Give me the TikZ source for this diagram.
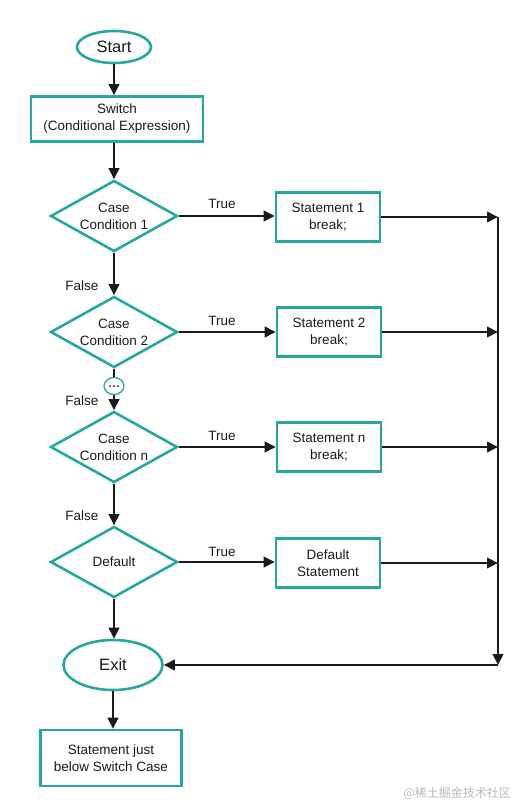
\documentclass[tikz,border=0pt]{standalone}
\usepackage{fontspec}
\setmainfont{Liberation Sans}
\newfontfamily\cjk{Noto Sans CJK SC}
\usetikzlibrary{shapes.geometric,arrows.meta,calc}
\definecolor{teal1}{RGB}{38,168,158}
\definecolor{ink}{RGB}{26,26,26}
\begin{document}
\begin{tikzpicture}[x=1pt,y=-1pt,
 txt/.style={font=\fontsize{13.5}{17}\selectfont, text=ink, align=center},
 oval/.style={ellipse, draw=teal1, line width=2.6pt, fill=white, inner sep=0pt, font=\fontsize{16.5}{20}\selectfont, text=ink},
 rbox/.style={rectangle, draw=teal1, line width=2.6pt, inner sep=0pt, txt},
 dia/.style={diamond, draw=teal1, line width=2.6pt, aspect=1.8, inner sep=0pt, minimum width=127pt, minimum height=71pt, txt},
 sbox/.style={rbox, minimum width=104pt, minimum height=49pt},
 arr/.style={draw=ink, line width=2.3pt, -{Triangle[length=11pt,width=10.5pt]}},
 ln/.style={draw=ink, line width=2.3pt},
 lbl/.style={txt, inner sep=0pt}]
\useasboundingbox (0,0) rectangle (528,808);
\fill[white] (0,0) rectangle (528,808);

% main column
\node[oval, minimum width=74pt, minimum height=32pt] (start) at (114,47) {Start};
\node[rbox, minimum width=172pt, minimum height=45pt] (switch) at (117,119) {Switch\\(Conditional Expression)};
\node[dia] (c1) at (114,216) {Case\\Condition 1};
\node[dia] (c2) at (114,332) {Case\\Condition 2};
\node[ellipse, draw=teal1, line width=1.3pt, minimum width=20pt, minimum height=17pt, inner sep=0pt] (dots) at (114,386) {};
\foreach \dx in {-4,0,4} \fill[ink] ($(dots.center)+(\dx,0)$) circle (1pt);
\node[dia] (c3) at (114,447) {Case\\Condition n};
\node[dia] (c4) at (114,562) {Default};
\node[oval, minimum width=99pt, minimum height=50pt] (exit) at (113,665) {Exit};
\node[rbox, minimum width=141pt, minimum height=56pt] (final) at (111,758) {Statement just\\below Switch Case};

% statements
\node[sbox] (s1) at (328,217) {Statement 1\\break;};
\node[sbox] (s2) at (329,332) {Statement 2\\break;};
\node[sbox] (s3) at (329,447) {Statement n\\break;};
\node[sbox] (s4) at (328,563) {Default\\Statement};

% labels
\node[lbl] (t1) at (222,204) {True};
\node[lbl] (t2) at (222,321) {True};
\node[lbl] (t3) at (222,436) {True};
\node[lbl] (t4) at (222,552) {True};
\node[lbl] (f1) at (82,286) {False};
\node[lbl] (f2) at (82,401) {False};
\node[lbl] (f3) at (82,516) {False};

\coordinate (j) at (498,665);

% vertical flow
\draw[arr] (start.south) -- (start.south |- switch.north);
\draw[arr] (switch.south -| c1.north) -- (c1.north);
\draw[arr] (c1.south) -- (c2.north);
\draw[ln] (c2.south) -- (dots.north);
\draw[arr] (dots.south) -- (c3.north);
\draw[arr] (c3.south) -- (c4.north);
\draw[arr] (c4.south) -- (c4.south |- exit.north);
\draw[arr] (exit.south) -- (exit.south |- final.north);

% true branches
\draw[arr] (c1.east) -- (c1.east -| s1.west);
\draw[arr] (c2.east) -- (c2.east -| s2.west);
\draw[arr] (c3.east) -- (c3.east -| s3.west);
\draw[arr] (c4.east) -- (c4.east -| s4.west);
\draw[arr] (s1.east) -- (s1.east -| j);
\draw[arr] (s2.east) -- (s2.east -| j);
\draw[arr] (s3.east) -- (s3.east -| j);
\draw[arr] (s4.east) -- (s4.east -| j);
\draw[arr] (s1.east -| j) -- (j);
\draw[arr] (j) -- (exit.east);

% watermark
\node[font=\cjk\fontsize{12}{12}\selectfont, text=black!28, anchor=east, inner sep=0pt] (wm) at (511,793) {@稀土掘金技术社区};
\end{tikzpicture}
\end{document}
